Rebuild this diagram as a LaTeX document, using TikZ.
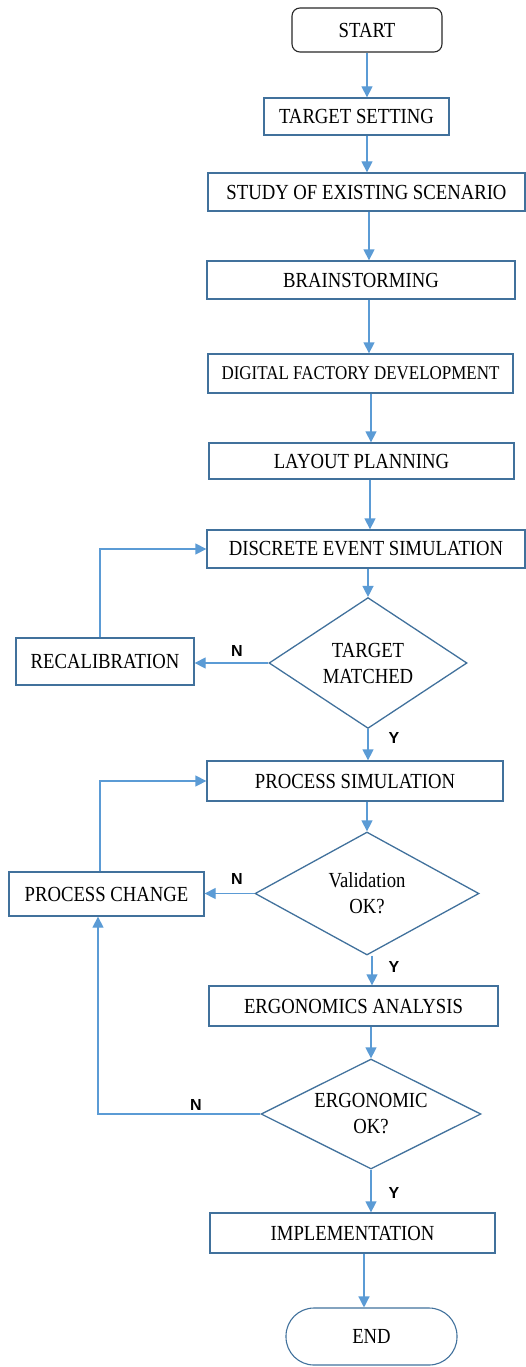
\documentclass[tikz,border=0pt]{standalone}
\usepackage{fontspec}
\usetikzlibrary{arrows.meta,shapes.geometric}
\newfontfamily\boxfont[FakeStretch=0.87]{Liberation Serif}
\newfontfamily\lblfont{Liberation Sans}
\definecolor{boxblue}{RGB}{65,113,156}
\definecolor{arrblue}{RGB}{91,155,213}
\definecolor{startgray}{RGB}{40,40,40}
\begin{document}
\begin{tikzpicture}[x=1pt,y=-1pt,
  every node/.style={inner sep=0pt, text=black},
  txt/.style={font=\boxfont\fontsize{21.5}{26}\selectfont, align=center},
  pbox/.style={txt, draw=boxblue, line width=1.3pt, rectangle},
  term/.style={txt, draw=startgray, line width=1.1pt, rounded corners=8pt},
  dec/.style={txt, draw=boxblue, line width=1.3pt, diamond},
  arr/.style={draw=arrblue, line width=1.3pt, -{Triangle[length=11pt,width=11pt]}},
  yn/.style={font=\lblfont\bfseries\fontsize{16}{16}\selectfont}
]
\useasboundingbox (0,0) rectangle (526,1367);

\node[term, minimum width=150, minimum height=44] (start) at (367,30) {START};
\node[pbox, minimum width=185, minimum height=37] (ts) at (356.5,116.5) {TARGET SETTING};
\node[pbox, minimum width=317, minimum height=38] (study) at (366.5,192) {STUDY OF EXISTING SCENARIO};
\node[pbox, minimum width=308, minimum height=38] (brain) at (361,280) {BRAINSTORMING};
\node[pbox, minimum width=305, minimum height=39, font=\boxfont\fontsize{19.5}{24}\selectfont] (digital) at (360.5,373.5) {DIGITAL FACTORY DEVELOPMENT};
\node[pbox, minimum width=305, minimum height=36] (layout) at (361.5,461) {LAYOUT PLANNING};
\node[pbox, minimum width=318, minimum height=38] (des) at (366,549) {DISCRETE EVENT SIMULATION};
\node[dec, minimum width=198, minimum height=127] (tm) at (368,663) {TARGET\\MATCHED};
\node[pbox, minimum width=178, minimum height=47] (recal) at (105,661.5) {RECALIBRATION};
\node[pbox, minimum width=296, minimum height=40] (ps) at (355,781) {PROCESS SIMULATION};
\node[dec, minimum width=224, minimum height=123] (val) at (367,893.5) {Validation\\OK?};
\node[pbox, minimum width=195, minimum height=44] (pc) at (106.5,894) {PROCESS CHANGE};
\node[pbox, minimum width=289, minimum height=40] (ergo) at (353.5,1006) {ERGONOMICS ANALYSIS};
\node[dec, shape aspect=2, minimum width=220, minimum height=110] (eok) at (371,1114) {ERGONOMIC\\OK?};
\node[pbox, minimum width=285, minimum height=40] (impl) at (352.5,1233) {IMPLEMENTATION};
\node[txt, draw=boxblue, line width=1.1pt, rounded corners=28pt, minimum width=171, minimum height=57] (end) at (371.5,1336.5) {END};

\coordinate (c1) at (367,0);
\coordinate (c2) at (369,0);
\coordinate (c3) at (371,0);
\coordinate (c4) at (370,0);
\coordinate (c5) at (372,0);
\coordinate (c6) at (364,0);
\coordinate (lx1) at (100,0);
\coordinate (lx2) at (98,0);

\draw[arr] (start.south -| c1) -- (ts.north -| c1);
\draw[arr] (ts.south -| c1) -- (study.north -| c1);
\draw[arr] (study.south -| c2) -- (brain.north -| c2);
\draw[arr] (brain.south -| c2) -- (digital.north -| c2);
\draw[arr] (digital.south -| c3) -- (layout.north -| c3);
\draw[arr] (layout.south -| c4) -- (des.north -| c4);
\draw[arr] (des.south -| tm.north) -- (tm.north);
\draw[arr] (tm.south) -- (ps.north -| tm.south);
\draw[arr] (ps.south -| val.north) -- (val.north);
\draw[arr] (val.south -| c5) -- (ergo.north -| c5);
\draw[arr] (ergo.south -| eok.north) -- (eok.north);
\draw[arr] (eok.south) -- (impl.north -| eok.south);
\draw[arr] (impl.south -| c6) -- (end.north -| c6);

\draw[arr] (tm.west) -- (recal.east |- tm.west);
\draw[arr] (recal.north -| lx1) -- (lx1 |- des.west) -- (des.west);
\draw[arr] (val.west) -- (pc.east |- val.west);
\draw[arr] (pc.north -| lx1) -- (lx1 |- ps.west) -- (ps.west);
\draw[arr] (eok.west) -- (lx2 |- eok.west) -- (pc.south -| lx2);

\node[yn] (n1) at (237,651) {N};
\node[yn] (y1) at (394,738) {Y};
\node[yn] (n2) at (237,879) {N};
\node[yn] (y2) at (394,967) {Y};
\node[yn] (n3) at (196,1105) {N};
\node[yn] (y3) at (394,1193) {Y};
\end{tikzpicture}
\end{document}
